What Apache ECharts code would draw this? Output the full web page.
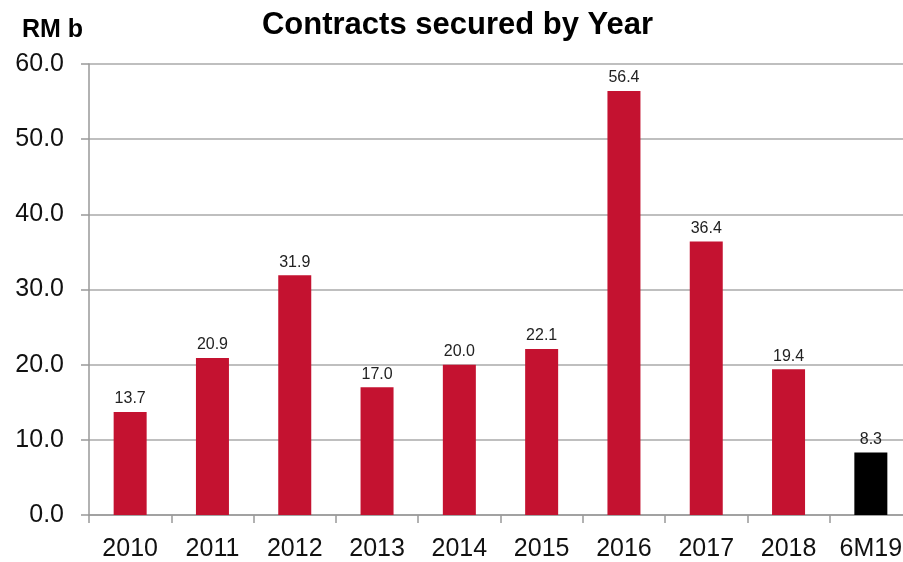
<!DOCTYPE html>
<html><head><meta charset="utf-8">
<script src="https://cdn.jsdelivr.net/npm/echarts@6/dist/echarts.min.js"></script>
<style>html,body{margin:0;padding:0;background:#fff;overflow:hidden;width:903px;height:562px}#c{width:915px;height:562px}</style>
</head><body><div id="c"></div>
<script>
const categories = ['2010','2011','2012','2013','2014','2015','2016','2017','2018','6M19'];
const values = [13.7, 20.9, 31.9, 17.0, 20.0, 22.1, 56.4, 36.4, 19.4, 8.3];
const barColors = ['#C41230','#C41230','#C41230','#C41230','#C41230','#C41230','#C41230','#C41230','#C41230','#000000'];
const yTicks = [0, 10, 20, 30, 40, 50, 60];

const chart = echarts.init(document.getElementById('c'));
const font = 'Liberation Sans, Arial, Helvetica, sans-serif';
chart.setOption({
  animation: false,
  title: [
    {text: 'Contracts secured by Year', left: 'center', top: 5,
     textStyle: {fontFamily: font, fontWeight: 'bold', fontSize: 31, color: '#000'}},
    {text: 'RM b', left: 17, top: 13,
     textStyle: {fontFamily: font, fontWeight: 'bold', fontSize: 25, color: '#000'}}
  ],
  grid: {left: 89, right: 3, top: 64, bottom: 47, containLabel: false},
  xAxis: {
    type: 'category', data: categories,
    axisLine: {lineStyle: {color: '#999', width: 1.5}},
    axisTick: {show: true, length: 8, alignWithLabel: false, lineStyle: {color: '#999', width: 1.5}},
    axisLabel: {fontFamily: font, fontSize: 25, color: '#111', margin: 22}
  },
  yAxis: {
    type: 'value', min: yTicks[0], max: yTicks[yTicks.length-1], interval: 10,
    axisLine: {show: true, lineStyle: {color: '#999', width: 1.5}},
    axisTick: {show: true, length: 8, lineStyle: {color: '#999', width: 1.5}},
    splitLine: {lineStyle: {color: '#aaa', width: 1.5}},
    axisLabel: {fontFamily: font, fontSize: 25, color: '#111', margin: 25,
      formatter: v => v.toFixed(1)}
  },
  series: [{
    type: 'bar', barWidth: 33,
    data: values.map((v, i) => ({value: v, itemStyle: {color: barColors[i]}})),
    label: {show: true, position: 'top', distance: 5, fontFamily: font, fontSize: 16, color: '#222',
      formatter: p => p.value.toFixed(1)}
  }]
});
</script></body></html>
